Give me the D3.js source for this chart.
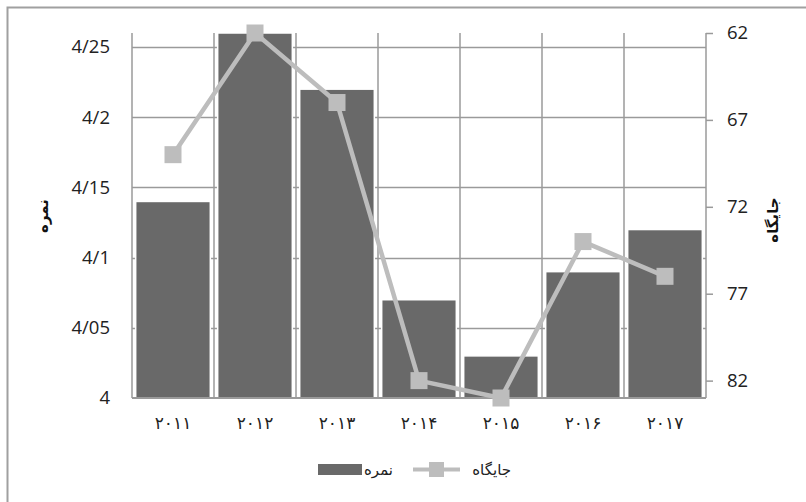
<!DOCTYPE html>
<html><head><meta charset="utf-8">
<script src="https://cdn.jsdelivr.net/npm/d3@7"></script>
<style>body{margin:0;background:#fff}svg{display:block}</style>
</head><body>
<svg id="c" width="806" height="502"></svg>
<script>
const categories = ["۲۰۱۱","۲۰۱۲","۲۰۱۳","۲۰۱۴","۲۰۱۵","۲۰۱۶","۲۰۱۷"];
const scoreValues = [4.14, 4.26, 4.22, 4.07, 4.03, 4.09, 4.12];
const rankValues = [69, 62, 66, 82, 83, 74, 76];
const leftTicks = [4, 4.05, 4.1, 4.15, 4.2, 4.25];
const leftTickLabels = ["4", "4/05", "4/1", "4/15", "4/2", "4/25"];
const rightTicks = [62, 67, 72, 77, 82];
const seriesNames = ["نمره", "جایگاه"];

const svg = d3.select("#c");
const L = 132, R = 706, T = 33, B = 398;
const gridColor = "#9a9a9a";
const barColor = "#696969";
const lineColor = "#bdbdbd";

svg.append("rect").attr("x", 7.5).attr("y", 7.5).attr("width", 820).attr("height", 520)
  .attr("fill", "none").attr("stroke", "#a0a0a0").attr("stroke-width", 2);

const x = d3.scaleBand().domain(categories).range([L, R]).paddingInner(0.09).paddingOuter(0.045);
const yL = d3.scaleLinear().domain([4, 4.26]).range([B, T]);
const yR = d3.scaleLinear().domain([62, 83]).range([T, B]);

// horizontal gridlines
svg.append("g").selectAll("line").data(leftTicks.slice(1)).join("line")
  .attr("x1", L).attr("x2", R).attr("y1", d => Math.round(yL(d)) + 0.5).attr("y2", d => Math.round(yL(d)) + 0.5)
  .attr("stroke", gridColor).attr("stroke-width", 1.5);
// vertical gridlines at category boundaries
const step = x.step();
svg.append("g").selectAll("line").data(d3.range(1, categories.length)).join("line")
  .attr("x1", i => L + i * step).attr("x2", i => L + i * step).attr("y1", T).attr("y2", B)
  .attr("stroke", gridColor).attr("stroke-width", 1.5);

// bars
svg.append("g").selectAll("rect").data(scoreValues).join("rect")
  .attr("x", (d, i) => x(categories[i])).attr("width", x.bandwidth())
  .attr("y", d => yL(d)).attr("height", d => B - yL(d))
  .attr("fill", barColor).attr("stroke", "#fff").attr("stroke-width", 1.5);

// axes lines
svg.append("line").attr("x1", L).attr("x2", L).attr("y1", T).attr("y2", B).attr("stroke", gridColor).attr("stroke-width", 1.5);
svg.append("line").attr("x1", R).attr("x2", R).attr("y1", T).attr("y2", B).attr("stroke", gridColor).attr("stroke-width", 1.5);
svg.append("line").attr("x1", L).attr("x2", R).attr("y1", B).attr("y2", B).attr("stroke", gridColor).attr("stroke-width", 2);

const tickFont = "Open Sans, Liberation Sans, sans-serif";
// right axis
const rAxis = svg.append("g").attr("transform", `translate(${R},0)`)
  .call(d3.axisRight(yR).tickValues(rightTicks).tickSize(7).tickPadding(14));
rAxis.select(".domain").remove();
rAxis.selectAll("line").attr("stroke", gridColor).attr("stroke-width", 1.5);
rAxis.selectAll("text").attr("font-family", tickFont).attr("font-size", 18.5).attr("fill", "#222");

// left axis labels
const lAxis = svg.append("g").attr("transform", `translate(${L},0)`)
  .call(d3.axisLeft(yL).tickValues(leftTicks).tickFormat((d, i) => leftTickLabels[i]).tickSize(0).tickPadding(22));
lAxis.select(".domain").remove();
lAxis.selectAll("text").attr("font-family", tickFont).attr("font-size", 18.5).attr("fill", "#222");

// x labels
svg.append("g").selectAll("text").data(categories).join("text")
  .attr("x", d => x(d) + x.bandwidth() / 2).attr("y", 429)
  .attr("text-anchor", "middle").attr("font-family", "DejaVu Sans, Noto Sans, sans-serif").attr("font-size", 17)
  .attr("letter-spacing", 2).attr("fill", "#222")
  .text(d => d);

// line
const line = d3.line().x((d, i) => x(categories[i]) + x.bandwidth() / 2).y(d => yR(d));
svg.append("path").datum(rankValues).attr("d", line).attr("fill", "none")
  .attr("stroke", lineColor).attr("stroke-width", 4.5).attr("stroke-linejoin", "round");
svg.append("g").selectAll("rect").data(rankValues).join("rect")
  .attr("x", (d, i) => x(categories[i]) + x.bandwidth() / 2 - 8.5).attr("y", d => yR(d) - 8.5)
  .attr("width", 17).attr("height", 17).attr("fill", lineColor);

// axis titles
svg.append("text").attr("transform", "translate(48,216) rotate(-90)")
  .attr("text-anchor", "middle").attr("font-family", "DejaVu Sans, sans-serif").attr("font-size", 15).attr("font-weight", "bold").attr("fill", "#111")
  .text(seriesNames[0]);
svg.append("text").attr("transform", "translate(778,220) rotate(-90)")
  .attr("text-anchor", "middle").attr("font-family", "DejaVu Sans, sans-serif").attr("font-size", 15).attr("font-weight", "bold").attr("fill", "#111")
  .text(seriesNames[1]);

// legend
const lg = svg.append("g");
lg.append("rect").attr("x", 318).attr("y", 464).attr("width", 44).attr("height", 11).attr("fill", barColor);
lg.append("text").attr("x", 393).attr("y", 475).attr("text-anchor", "end")
  .attr("font-family", "DejaVu Sans, sans-serif").attr("font-size", 15).attr("fill", "#222").text(seriesNames[0]);
lg.append("line").attr("x1", 413).attr("x2", 460).attr("y1", 469.5).attr("y2", 469.5).attr("stroke", lineColor).attr("stroke-width", 4);
lg.append("rect").attr("x", 429).attr("y", 462).attr("width", 15).attr("height", 15).attr("fill", lineColor);
lg.append("text").attr("x", 511).attr("y", 475).attr("text-anchor", "end")
  .attr("font-family", "DejaVu Sans, sans-serif").attr("font-size", 15).attr("fill", "#222").text(seriesNames[1]);
</script>
</body></html>
